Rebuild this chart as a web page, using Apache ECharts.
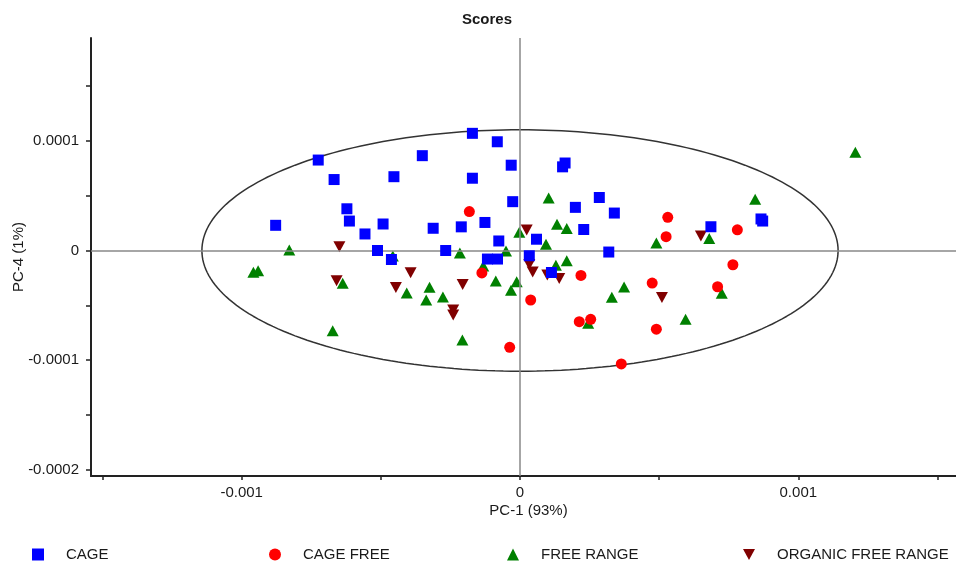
<!DOCTYPE html>
<html>
<head>
<meta charset="utf-8">
<script src="https://cdn.jsdelivr.net/npm/echarts@6/dist/echarts.min.js"></script>
<style>
  html, body { margin: 0; padding: 0; background: #fff; }
  #chart { width: 956px; height: 561px; }
</style>
</head>
<body>
<div id="chart"></div>
<script>
// ---------- data ----------
const categories = ['CAGE', 'CAGE FREE', 'FREE RANGE', 'ORGANIC FREE RANGE'];

const cageX = [-0.000878, -0.000725, -0.000668, -0.000622, -0.000613, -0.000557, -0.000492, -0.000512, -0.000462,
  -0.000453, -0.000351, -0.000312, -0.000267, -0.000211, -0.000171, -0.000171, -0.000126, -0.0000816, -0.0000316,
  -0.0000262, -0.000117, -0.0000808, -0.0000762, 0.0000334, 0.0000593, 0.000113, 0.000153, 0.000162, 0.000199,
  0.000229, 0.000285, 0.000319, 0.000339, 0.000686, 0.000866, 0.000872];
const cageY = [0.0000230, 0.0000826, 0.0000648, 0.0000381, 0.0000269, 0.0000151, 0.0000242, 0.0000000, -0.0000082,
  0.0000674, 0.0000866, 0.0000203, 0.0000000, 0.0000216, 0.0001070, 0.0000660, 0.0000256, 0.0000993, 0.0000779,
  0.0000446, -0.0000078, -0.0000078, 0.0000087, -0.0000048, 0.0000103, -0.0000201, 0.0000764, 0.0000799, 0.0000394,
  0.0000192, 0.0000484, -0.0000014, 0.0000342, 0.0000217, 0.0000288, 0.0000269];

const cageFreeX = [-0.000182, -0.000137, -0.0000370, 0.0000384, 0.000219, 0.000213, 0.000254, 0.000364, 0.000475,
  0.000490, 0.000525, 0.000531, 0.000710, 0.000765, 0.000781];
const cageFreeY = [0.0000356, -0.0000205, -0.0000884, -0.0000452, -0.0000228, -0.0000650, -0.0000628, -0.0001036,
  -0.0000297, -0.0000719, 0.0000126, 0.0000303, -0.0000331, -0.0000130, 0.0000189];

const freeRangeX = [-0.000958, -0.000941, -0.000829, -0.000673, -0.000637, -0.000457, -0.000407, -0.000337, -0.000325,
  -0.000277, -0.000216, -0.000207, -0.000132, -0.0000870, -0.0000503, -0.0000323, -0.0000119, -0.0000025, 0.0000934,
  0.000103, 0.000129, 0.000133, 0.000168, 0.000168, 0.000245, 0.000330, 0.000374, 0.000490, 0.000595, 0.000680,
  0.000725, 0.000845, 0.001205];
const freeRangeY = [-0.0000199, -0.0000184, 0.0000005, -0.0000732, -0.0000300, -0.0000050, -0.0000388, -0.0000452,
  -0.0000335, -0.0000425, -0.0000023, -0.0000817, -0.0000142, -0.0000279, -0.0000005, -0.0000363, -0.0000285,
  0.0000166, 0.0000058, 0.0000479, -0.0000135, 0.0000239, 0.0000201, -0.0000093, -0.0000665, -0.0000427, -0.0000333,
  0.0000068, -0.0000628, 0.0000110, -0.0000391, 0.0000468, 0.0000897];

const organicX = [-0.000649, -0.000659, -0.000446, -0.000393, -0.000240, -0.000240, -0.000206, 0.0000241, 0.0000334,
  0.0000456, 0.0000981, 0.000141, 0.000510, 0.000650];
const organicY = [0.0000035, -0.0000276, -0.0000338, -0.0000203, -0.0000543, -0.0000589, -0.0000310, 0.0000187,
  -0.0000128, -0.0000196, -0.0000224, -0.0000256, -0.0000429, 0.0000132];

// axis ticks / labels
const xTickValues = [-0.0015, -0.001, -0.0005, 0, 0.0005, 0.001, 0.0015];
const xLabelValues = [-0.001, 0, 0.001];
const xLabelTexts = ['-0.001', '0', '0.001'];
const yTickValues = [-0.0002, -0.00015, -0.0001, -0.00005, 0, 0.00005, 0.0001, 0.00015];
const yLabelValues = [-0.0002, -0.0001, 0, 0.0001];
const yLabelTexts = ['-0.0002', '-0.0001', '0', '0.0001'];

// confidence ellipse (Hotelling T2) semi-axes
const ellipseRadiusX = 0.001143;
const ellipseRadiusY = 0.0001102;

// ---------- build ----------
const zip = (xs, ys) => xs.map((x, i) => [x, ys[i]]);
const ellipse = [];
for (let i = 0; i <= 240; i++) {
  const t = (i / 240) * Math.PI * 2;
  ellipse.push([ellipseRadiusX * Math.cos(t), ellipseRadiusY * Math.sin(t)]);
}
const fmtLabel = (vals, texts) => (v) => {
  for (let i = 0; i < vals.length; i++) if (Math.abs(v - vals[i]) < 1e-9) return texts[i];
  return '';
};

const FONT = 'Liberation Sans, Arial, sans-serif';
const TXT = '#1a1a1a';
const downTri = 'path://M0,0 L10,0 L5,9 Z';

const legendBase = (name, left) => ({
  data: [name],
  left: left,
  top: 547,
  padding: 0,
  itemWidth: 12,
  itemHeight: 12,
  selectedMode: false,
  itemStyle: { opacity: 1 },
  textStyle: { fontSize: 15, color: TXT, fontFamily: FONT, padding: [0, 0, 0, 17] }
});

const chart = echarts.init(document.getElementById('chart'), null, { renderer: 'canvas' });
chart.setOption({
  animation: false,
  backgroundColor: '#fff',
  grid: { left: 91, right: -10, top: 38, bottom: 85, containLabel: false, outerBoundsMode: 'none' },
  graphic: [{
    type: 'text', x: 487, y: 20,
    style: { text: 'Scores', fontSize: 15, fontWeight: 'bold', fill: TXT, fontFamily: FONT,
      textAlign: 'center', textVerticalAlign: 'middle' }
  }],
  legend: [
    legendBase(categories[0], 32),
    legendBase(categories[1], 269),
    legendBase(categories[2], 507),
    legendBase(categories[3], 743)
  ],
  xAxis: {
    type: 'value',
    min: -0.0015415, max: 0.0016026,
    splitLine: { show: false },
    axisLine: { onZero: false, lineStyle: { color: '#222', width: 2 } },
    axisTick: { show: true, length: 4, customValues: xTickValues, lineStyle: { color: '#222', width: 1.5 } },
    axisLabel: { customValues: xLabelValues, formatter: fmtLabel(xLabelValues, xLabelTexts),
      fontSize: 15, color: TXT, fontFamily: FONT, margin: 9 },
    name: 'PC-1 (93%)', nameLocation: 'middle', nameGap: 27, nameMoveOverlap: false,
    nameTextStyle: { fontSize: 15, color: TXT, fontFamily: FONT }
  },
  yAxis: {
    type: 'value',
    min: -0.00020593, max: 0.00019406,
    splitLine: { show: false },
    axisLine: { onZero: false, lineStyle: { color: '#222', width: 2 } },
    axisTick: { show: true, length: 5, customValues: yTickValues, lineStyle: { color: '#222', width: 1.5 } },
    axisLabel: { customValues: yLabelValues, formatter: fmtLabel(yLabelValues, yLabelTexts),
      fontSize: 15, color: TXT, fontFamily: FONT, margin: 12 },
    name: 'PC-4 (1%)', nameLocation: 'middle', nameGap: 65, nameMoveOverlap: false,
    nameTextStyle: { fontSize: 15, color: TXT, fontFamily: FONT }
  },
  series: [
    {
      name: categories[0], type: 'scatter', z: 6, symbol: 'rect', symbolSize: 11,
      itemStyle: { color: '#0000ff', opacity: 1 }, data: zip(cageX, cageY)
    },
    {
      name: categories[1], type: 'scatter', z: 5, symbol: 'circle', symbolSize: 11,
      itemStyle: { color: '#ff0000', opacity: 1 }, data: zip(cageFreeX, cageFreeY)
    },
    {
      name: categories[2], type: 'scatter', z: 3, symbol: 'triangle', symbolSize: [12, 11],
      itemStyle: { color: '#008000', opacity: 1 }, data: zip(freeRangeX, freeRangeY)
    },
    {
      name: categories[3], type: 'scatter', z: 4, symbol: downTri, symbolSize: [12, 11],
      itemStyle: { color: '#800000', opacity: 1 }, data: zip(organicX, organicY)
    },
    {
      name: 'ellipse', type: 'line', z: 2, showSymbol: false, symbol: 'none', silent: true,
      lineStyle: { color: '#333', width: 1.5 }, data: ellipse,
      markLine: {
        silent: true, symbol: 'none', label: { show: false },
        lineStyle: { color: '#888', width: 1.5, type: 'solid' },
        data: [{ xAxis: 0 }, { yAxis: 0 }]
      }
    }
  ]
});
</script>
</body>
</html>
